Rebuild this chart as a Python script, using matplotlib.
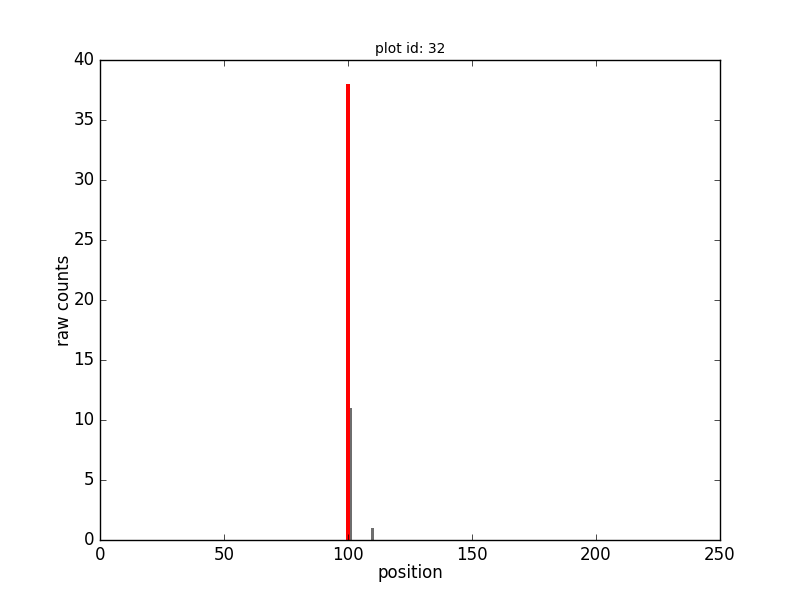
import matplotlib
matplotlib.use("Agg")
import matplotlib.pyplot as plt

plt.style.use("classic")

# data
gray_pos = [100, 101, 110]
gray_counts = [38, 11, 1]
red_pos = [100]
red_counts = [38]

fig = plt.figure(figsize=(8, 6), dpi=100)
fig.patch.set_facecolor("white")
ax = fig.add_subplot(111)

ax.bar(gray_pos, gray_counts, width=1.2, color="#6e6e6e", edgecolor="none", align="center")
ax.bar(red_pos, red_counts, width=1.5, color="red", edgecolor="none", align="center")

ax.set_xlim(0, 250)
ax.set_ylim(0, 40)
ax.set_title("plot id: 32", fontsize=10)
ax.set_xlabel("position", labelpad=0)
ax.set_ylabel("raw counts", labelpad=0)

fig.savefig("out.png", dpi=100, facecolor="white")
